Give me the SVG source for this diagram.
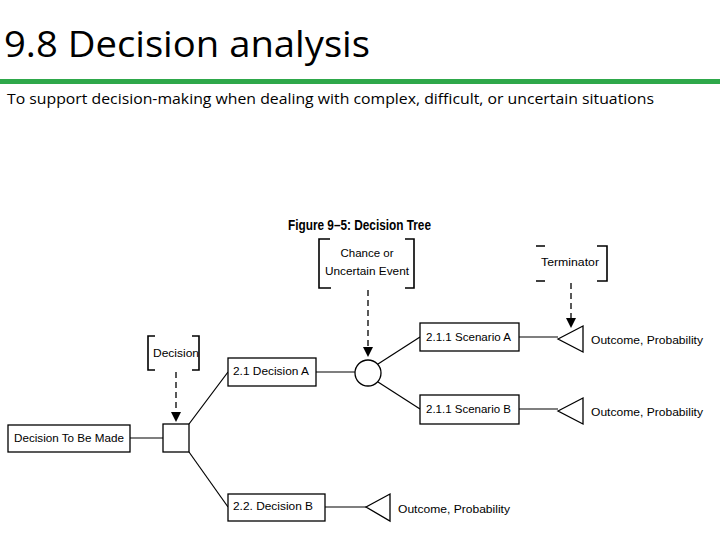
<svg xmlns="http://www.w3.org/2000/svg" width="720" height="540" viewBox="0 0 720 540">
<defs>
<style>
.b{fill:#fff;stroke:#000;stroke-width:1.3}
.l{stroke:#000;stroke-width:1.2;fill:none}
.d{stroke:#000;stroke-width:1.3;stroke-dasharray:6 4;fill:none}
.br{stroke:#000;stroke-width:1.6;fill:none}
.t{font-family:"Liberation Sans",sans-serif;font-size:11.5px;fill:#000}
</style>
</defs>
<rect width="720" height="540" fill="#fff"/>
<text x="4" y="57" font-family="Open Sans,Liberation Sans,sans-serif" font-size="36" textLength="366" lengthAdjust="spacingAndGlyphs">9.8 Decision analysis</text>
<rect x="0" y="79" width="720" height="5" fill="#2ea84a"/>
<text x="7" y="104" font-family="Open Sans,Liberation Sans,sans-serif" font-size="15" textLength="647" lengthAdjust="spacingAndGlyphs">To support decision-making when dealing with complex, difficult, or uncertain situations</text>
<text x="288" y="230" font-family="Liberation Sans,sans-serif" font-size="15" font-weight="bold" textLength="143" lengthAdjust="spacingAndGlyphs">Figure 9–5: Decision Tree</text>
<g id="connectors">
<line class="l" x1="130" y1="438" x2="163" y2="438"/>
<line class="l" x1="189" y1="424" x2="228" y2="372"/>
<line class="l" x1="189" y1="452" x2="228" y2="507"/>
<line class="l" x1="316" y1="372" x2="355" y2="372"/>
<line class="l" x1="378" y1="364" x2="420" y2="337"/>
<line class="l" x1="378" y1="382" x2="420" y2="409"/>
<line class="l" x1="519" y1="337" x2="558" y2="337"/>
<line class="l" x1="519" y1="409" x2="558" y2="409"/>
<line class="l" x1="325" y1="507" x2="366" y2="507"/>
<line class="d" x1="176" y1="372" x2="176" y2="412"/>
<path d="M171,412 L181,412 L176,422Z"/>
<line class="d" x1="368" y1="290" x2="368" y2="347"/>
<path d="M363,347 L373,347 L368,357Z"/>
<line class="d" x1="571" y1="283" x2="571" y2="318"/>
<path d="M566,318 L576,318 L571,328Z"/>
</g>
<g id="decisionToBeMade"><rect class="b" x="8" y="425" width="122" height="27"/><text class="t" x="14" y="442" textLength="110" lengthAdjust="spacingAndGlyphs">Decision To Be Made</text></g>
<g id="decisionNode"><rect class="b" x="163" y="424" width="26" height="28"/></g>
<g id="decisionLabel"><path class="br" d="M155,336 H148 V370 H155 M192,336 H199 V370 H192"/><text class="t" x="153" y="357" textLength="46" lengthAdjust="spacingAndGlyphs">Decision</text></g>
<g id="decisionA"><rect class="b" x="228" y="358" width="88" height="28"/><text class="t" x="233" y="375" textLength="76" lengthAdjust="spacingAndGlyphs">2.1 Decision A</text></g>
<g id="decisionB"><rect class="b" x="228" y="494" width="97" height="27"/><text class="t" x="233" y="510" textLength="80" lengthAdjust="spacingAndGlyphs">2.2. Decision  B</text></g>
<g id="chanceNode"><circle class="b" cx="368" cy="373" r="13"/></g>
<g id="chanceLabel"><path class="br" d="M330,239 H319 V288 H331 M405,239 H414 V288 H405"/><text class="t" x="367" y="257" text-anchor="middle">Chance or</text><text class="t" x="367" y="275" text-anchor="middle" textLength="84" lengthAdjust="spacingAndGlyphs">Uncertain Event</text></g>
<g id="terminatorLabel"><path class="br" d="M536,246 H545 M536,281 H545 M597,246 H607 V281 H597"/><text class="t" x="541" y="266" textLength="58" lengthAdjust="spacingAndGlyphs">Terminator</text></g>
<g id="scenarioA"><rect class="b" x="420" y="323" width="99" height="28"/><text class="t" x="426" y="341" textLength="85" lengthAdjust="spacingAndGlyphs">2.1.1 Scenario A</text></g>
<g id="scenarioB"><rect class="b" x="420" y="395" width="99" height="29"/><text class="t" x="426" y="413" textLength="85" lengthAdjust="spacingAndGlyphs">2.1.1 Scenario B</text></g>
<g id="outcomeA"><path class="b" d="M558,339 L583,326 V352Z"/><text class="t" x="591" y="344" textLength="112" lengthAdjust="spacingAndGlyphs">Outcome, Probability</text></g>
<g id="outcomeB"><path class="b" d="M558,411 L583,398 V424Z"/><text class="t" x="591" y="416" textLength="112" lengthAdjust="spacingAndGlyphs">Outcome, Probability</text></g>
<g id="outcomeC"><path class="b" d="M366,507 L390,494 V521Z"/><text class="t" x="398" y="513" textLength="112" lengthAdjust="spacingAndGlyphs">Outcome, Probability</text></g>
</svg>
